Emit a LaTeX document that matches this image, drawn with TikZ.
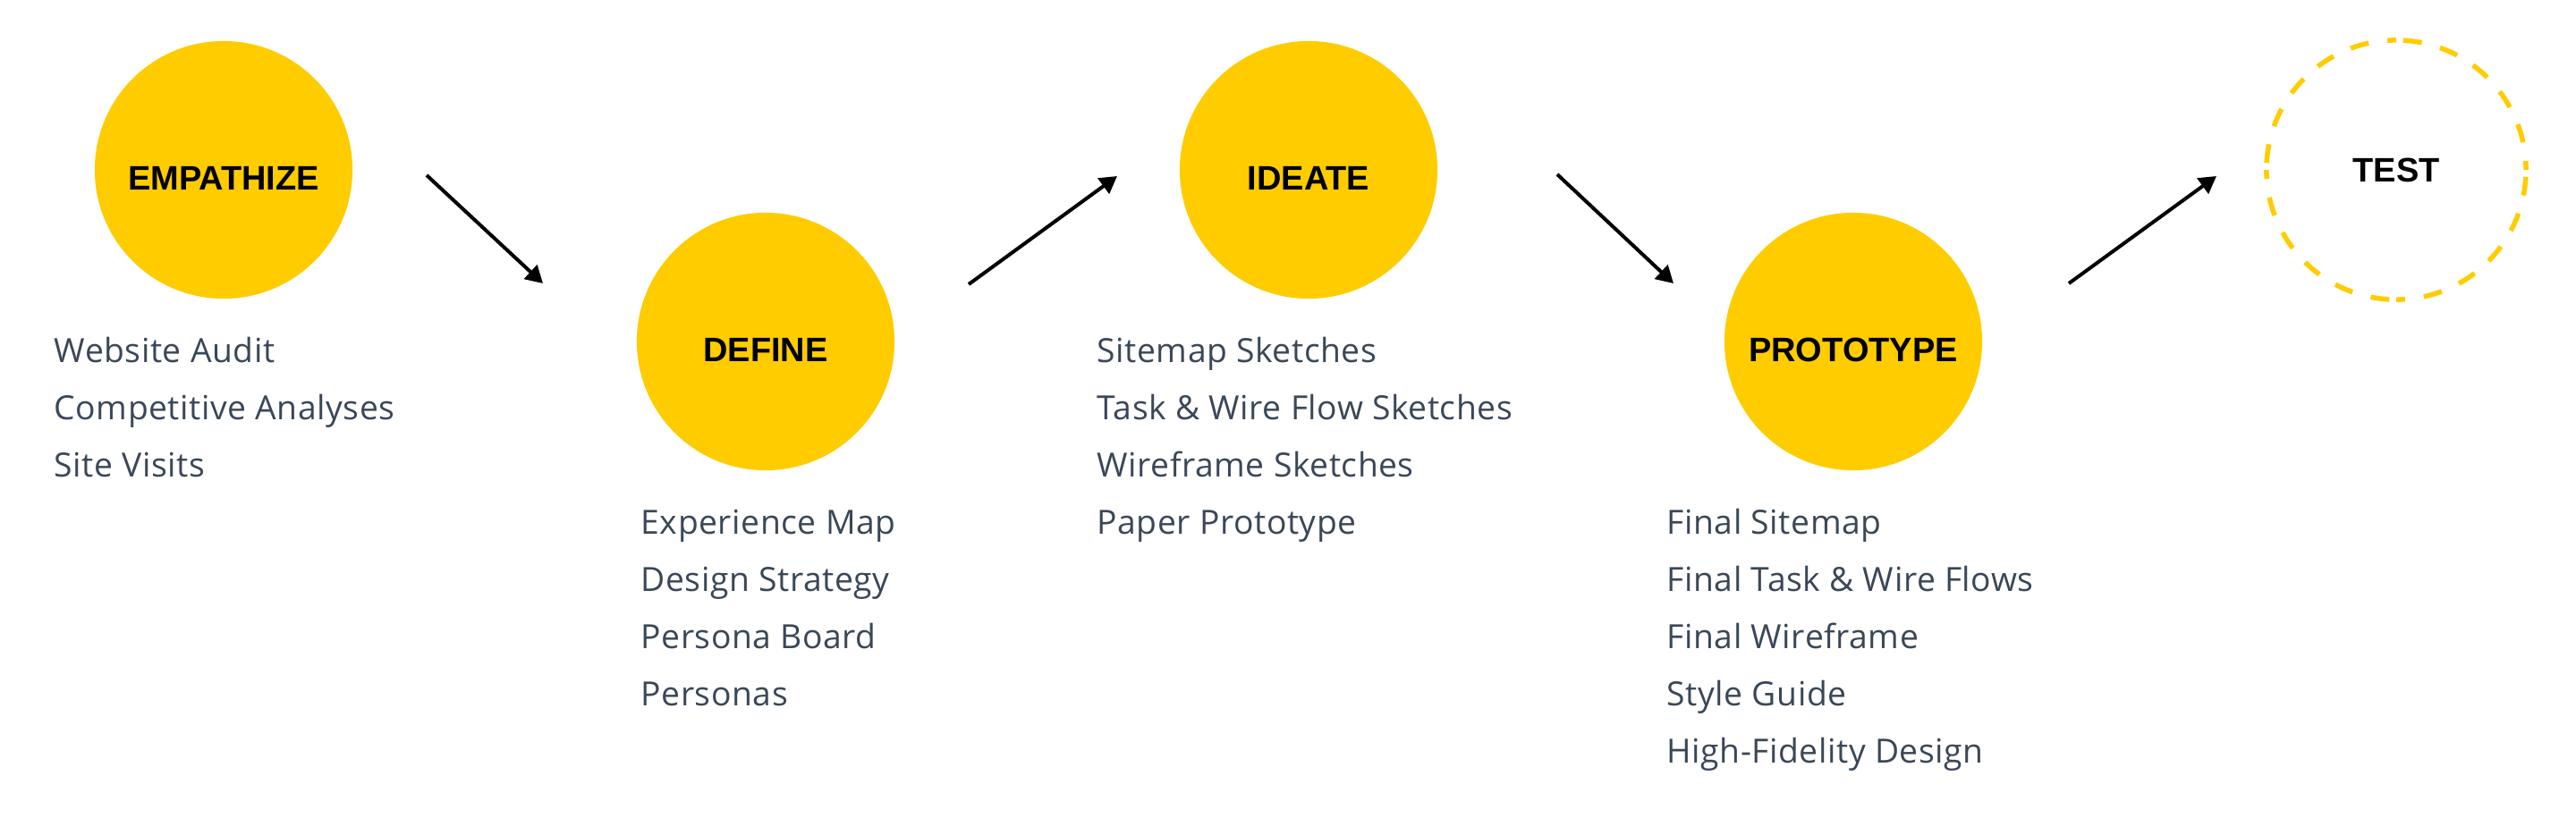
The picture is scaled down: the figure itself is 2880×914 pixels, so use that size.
\documentclass[tikz,border=0pt]{standalone}
\usepackage{fontspec}
\setmainfont{Open Sans}[LetterSpace=1.5]
\newfontfamily\headfont{Liberation Sans}
\usetikzlibrary{arrows.meta}

\begin{document}
\begin{tikzpicture}[x=0.01cm,y=0.01cm,
  stage/.style={circle,minimum size=2.88cm,inner sep=0pt,outer sep=0pt,
    font=\headfont\bfseries\fontsize{10.8}{12}\selectfont},
  full/.style={stage,fill=\sun,text height=0.45cm},
  item/.style={anchor=base west,inner sep=0pt,text=\ink,
    font=\fontsize{10.6}{12}\selectfont},
  flow/.style={line width=0.04cm,-{Triangle[length=0.19cm,width=0.21cm]}},
  ring/.style={draw=\sun,line width=0.055cm,
    dash pattern=on 0.21cm off 0.21cm,dash phase=0.11cm}]
  \def\sun{rgb,255:red,255;green,204;blue,0}
  \def\ink{rgb,255:red,58;green,71;blue,87}
  \useasboundingbox (0,0) rectangle (2880,-914);

  % the five stages
  \node[full] (empathize) at (250,-190) {EMPATHIZE};
  \node[full] (define) at (856,-382) {DEFINE};
  \node[full] (ideate) at (1463,-190) {IDEATE};
  \node[full] (prototype) at (2072,-382) {PROTOTYPE};
  \node[stage,minimum size=2.9cm] (test) at (2679,-190) {TEST};
  \foreach \a in {0,90,180,270} {
    \draw[ring] (test.\a) arc[start angle=\a,delta angle=90,radius=1.45cm];
  }

  % what each stage gives
  \foreach \t[count=\i from 0] in {Website Audit,Competitive Analyses,Site Visits} {
    \node[item] (empathize-\i) at (60,-405-64*\i) {\t};
  }
  \foreach \t[count=\i from 0] in {Experience Map,Design Strategy,Persona Board,Personas} {
    \node[item] (define-\i) at (716,-597-64*\i) {\t};
  }
  \foreach \t[count=\i from 0] in {Sitemap Sketches,Task \& Wire Flow Sketches,
      Wireframe Sketches,Paper Prototype} {
    \node[item] (ideate-\i) at (1226,-405-64*\i) {\t};
  }
  \foreach \t[count=\i from 0] in {Final Sitemap,Final Task \& Wire Flows,
      Final Wireframe,Style Guide,High-Fidelity Design} {
    \node[item] (prototype-\i) at (1863,-597-64*\i) {\t};
  }

  % arrows between stages
  \coordinate (e-out) at (477,-196);
  \coordinate (d-in) at (607,-317);
  \coordinate (d-out) at (1083,-318);
  \coordinate (i-in) at (1249,-197);
  \coordinate (i-out) at (1741,-195);
  \coordinate (p-in) at (1871,-317);
  \coordinate (p-out) at (2313,-317);
  \coordinate (t-in) at (2478,-197);
  \draw[flow] (e-out) -- (d-in);
  \draw[flow] (d-out) -- (i-in);
  \draw[flow] (i-out) -- (p-in);
  \draw[flow] (p-out) -- (t-in);
\end{tikzpicture}
\end{document}
